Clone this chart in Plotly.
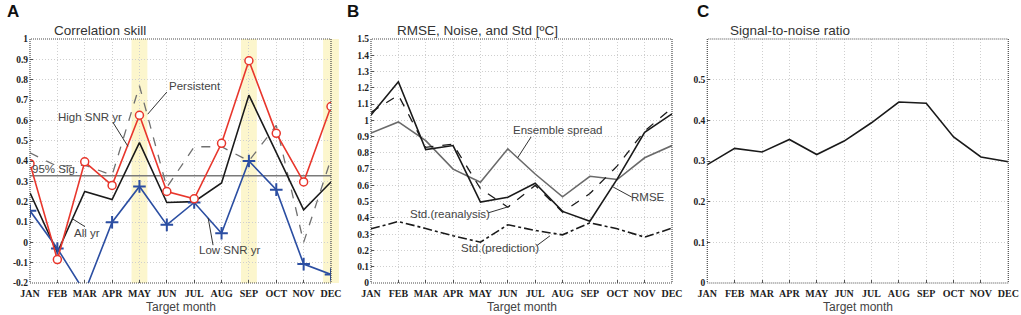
import plotly.graph_objects as go

months = ["JAN", "FEB", "MAR", "APR", "MAY", "JUN", "JUL", "AUG", "SEP", "OCT", "NOV", "DEC"]

# ---- Panel A: correlation skill ----
high_snr = [0.387, -0.085, 0.396, 0.28, 0.625, 0.25, 0.214, 0.487, 0.893, 0.536, 0.297, 0.668]
all_yr = [0.243, -0.05, 0.25, 0.21, 0.49, 0.196, 0.20, 0.292, 0.724, 0.44, 0.16, 0.297]
low_snr = [0.155, -0.03, -0.245, 0.099, 0.275, 0.086, 0.196, 0.045, 0.40, 0.259, -0.107, -0.158]
persistent = [0.44, 0.374, 0.38, 0.33, 0.77, 0.27, 0.47, 0.47, 0.40, 0.575, 0.0, 0.41]
sig95 = 0.328
highlight_months = ["MAY", "SEP", "DEC"]
a_ticks = [-0.2, -0.1, 0, 0.1, 0.2, 0.3, 0.4, 0.5, 0.6, 0.7, 0.8, 0.9, 1.0]

# ---- Panel B: RMSE, noise, std ----
rmse = [1.033, 1.237, 0.82, 0.845, 0.497, 0.527, 0.613, 0.44, 0.38, 0.64, 0.926, 1.04]
std_rean = [1.049, 1.155, 0.834, 0.853, 0.58, 0.466, 0.60, 0.436, 0.55, 0.72, 0.935, 1.075]
ens_spread = [0.922, 0.99, 0.875, 0.70, 0.62, 0.825, 0.67, 0.53, 0.656, 0.636, 0.77, 0.845]
std_pred = [0.333, 0.378, 0.335, 0.29, 0.251, 0.358, 0.323, 0.296, 0.37, 0.333, 0.282, 0.337]
b_ticks = [0, 0.1, 0.2, 0.3, 0.4, 0.5, 0.6, 0.7, 0.8, 0.9, 1.0, 1.1, 1.2, 1.3, 1.4, 1.5]

# ---- Panel C: signal-to-noise ratio ----
snr = [0.291, 0.331, 0.322, 0.353, 0.316, 0.349, 0.394, 0.445, 0.442, 0.359, 0.31, 0.298]
c_ticks = [0, 0.1, 0.2, 0.3, 0.4, 0.5]

xs = list(range(len(months)))

TICKFONT = dict(family="Liberation Serif, serif", size=10, color="#222", weight="bold")
YTICKFONT = dict(family="Liberation Serif, serif", size=9.5, color="#222", weight="bold")
TEXTFONT = dict(family="Liberation Sans, Arial, sans-serif", size=11.5, color="#444")
TITLEFONT = dict(family="Liberation Sans, Arial, sans-serif", size=13.5, color="#333")
GRIDDASH = "1px,2px"

fig = go.Figure()

# Panel A traces
fig.add_trace(go.Scatter(x=xs, y=persistent, mode="lines", xaxis="x", yaxis="y",
                         line=dict(color="#707070", width=1.3, dash="dash")))
fig.add_trace(go.Scatter(x=[xs[0], xs[-1]], y=[sig95, sig95], mode="lines", xaxis="x", yaxis="y",
                         line=dict(color="#7a7a7a", width=1.5)))
fig.add_trace(go.Scatter(x=xs, y=all_yr, mode="lines", xaxis="x", yaxis="y",
                         line=dict(color="#1a1a1a", width=1.6)))
fig.add_trace(go.Scatter(x=xs, y=low_snr, mode="lines+markers", xaxis="x", yaxis="y",
                         line=dict(color="#2b4ea2", width=1.6),
                         marker=dict(symbol="cross-thin", size=9, color="#2b4ea2",
                                     line=dict(color="#2b4ea2", width=2))))
fig.add_trace(go.Scatter(x=xs, y=high_snr, mode="lines+markers", xaxis="x", yaxis="y",
                         line=dict(color="#e8362c", width=1.6),
                         marker=dict(symbol="circle", size=8, color="white",
                                     line=dict(color="#e8362c", width=1.5))))

# Panel B traces
fig.add_trace(go.Scatter(x=xs, y=ens_spread, mode="lines", xaxis="x2", yaxis="y2",
                         line=dict(color="#6a6a6a", width=1.6)))
fig.add_trace(go.Scatter(x=xs, y=std_rean, mode="lines", xaxis="x2", yaxis="y2",
                         line=dict(color="#1a1a1a", width=1.3, dash="dash")))
fig.add_trace(go.Scatter(x=xs, y=rmse, mode="lines", xaxis="x2", yaxis="y2",
                         line=dict(color="#1a1a1a", width=1.6)))
fig.add_trace(go.Scatter(x=xs, y=std_pred, mode="lines", xaxis="x2", yaxis="y2",
                         line=dict(color="#1a1a1a", width=1.6, dash="dashdot")))

# Panel C trace
fig.add_trace(go.Scatter(x=xs, y=snr, mode="lines", xaxis="x3", yaxis="y3",
                         line=dict(color="#1a1a1a", width=1.6)))

def fmt(v):
    return f"{v:g}"

def xaxis(domain, anchor):
    return dict(domain=domain, anchor=anchor, range=[0, len(months) - 1],
                tickmode="array", tickvals=xs, ticktext=months, tickfont=TICKFONT,
                showgrid=True, gridcolor="#cfcfcf", griddash=GRIDDASH, gridwidth=1,
                zeroline=False, showline=False, ticks="inside", ticklen=3,
                tickcolor="#555", ticklabelstandoff=3, automargin=False, fixedrange=True)

def yaxis(rng, ticks, anchor):
    return dict(domain=[0, 1], anchor=anchor, range=rng,
                tickmode="array", tickvals=ticks, ticktext=[fmt(t) for t in ticks],
                tickfont=YTICKFONT, showgrid=True, gridcolor="#cfcfcf", griddash=GRIDDASH,
                gridwidth=1, zeroline=False, showline=False, ticks="inside", ticklen=3,
                tickcolor="#555", ticklabelstandoff=1, automargin=False, fixedrange=True)

W = 1021
fig.update_layout(
    width=W, height=315,
    margin=dict(l=0, r=0, t=39, b=32),
    paper_bgcolor="white", plot_bgcolor="white",
    showlegend=False,
    font=dict(family="Liberation Sans, Arial, sans-serif", color="#333"),
    xaxis=xaxis([30 / W, 331 / W], "y"),
    yaxis=yaxis([-0.2, 1.0], a_ticks, "x"),
    xaxis2=xaxis([371 / W, 672 / W], "y2"),
    yaxis2=yaxis([0, 1.5], b_ticks, "x2"),
    xaxis3=xaxis([707.3 / W, 1008.3 / W], "y3"),
    yaxis3=yaxis([0, 0.6], c_ticks, "x3"),
)

shapes = []
# highlighted months in panel A (yellow bands)
n = len(months) - 1
for m in highlight_months:
    i = months.index(m)
    shapes.append(dict(type="rect", xref="x domain", yref="y domain",
                       x0=(i - 0.29) / n, x1=(i + 0.29) / n, y0=0, y1=1,
                       fillcolor="rgba(251,244,196,0.85)", line=dict(width=0), layer="below"))
# dotted frames
for xa, ya in [("x", "y"), ("x2", "y2"), ("x3", "y3")]:
    shapes.append(dict(type="rect", xref=f"{xa} domain", yref=f"{ya} domain",
                       x0=0, x1=1, y0=0, y1=1,
                       line=dict(color="#4a4a4a", width=1.2, dash="1px,1px"),
                       layer="above"))

# label specs: (axis x, axis y, text, text_pos, leader_from, leader_to)
labels = [
    ("x", "y", "Persistent", (6.03, 0.769), (5.0, 0.739), (4.3, 0.63)),
    ("x", "y", "High SNR yr", (2.19, 0.615), (3.03, 0.59), (3.58, 0.472)),
    ("x", "y", "95% Sig.", (0.91, 0.36), None, None),
    ("x", "y", "All yr", (2.10, 0.044), (1.56, 0.115), (2.01, 0.077)),
    ("x", "y", "Low SNR yr", (7.31, -0.038), (6.69, -0.014), (6.51, 0.12)),
    ("x2", "y2", "Ensemble spread", (6.85, 0.942), (5.85, 0.898), (5.36, 0.77)),
    ("x2", "y2", "RMSE", (10.12, 0.53), (9.53, 0.528), (8.85, 0.59)),
    ("x2", "y2", "Std.(reanalysis)", (2.87, 0.425), (4.28, 0.431), (5.08, 0.472)),
    ("x2", "y2", "Std.(prediction)", (4.70, 0.217), (6.07, 0.231), (6.54, 0.29)),
]
annotations = []
for xa, ya, text, pos, p0, p1 in labels:
    annotations.append(dict(xref=xa, yref=ya, x=pos[0], y=pos[1], text=text, showarrow=False,
                            xanchor="center", yanchor="middle", font=TEXTFONT))
    if p0 is not None:
        shapes.append(dict(type="line", xref=xa, yref=ya, x0=p0[0], y0=p0[1], x1=p1[0], y1=p1[1],
                           line=dict(color="#333", width=1), layer="above"))

# subplot titles, panel letters, axis titles
titles = [("x", "y", "Correlation skill", 0.073, "A", 5),
          ("x2", "y2", "RMSE, Noise, and Std [ºC]", 0.08, "B", 345),
          ("x3", "y3", "Signal-to-noise ratio", 0.069, "C", 695)]
for xa, ya, t, tx, letter, lx in titles:
    annotations.append(dict(xref=f"{xa} domain", yref=f"{ya} domain", x=tx, y=1.035, text=t,
                            showarrow=False, xanchor="left", yanchor="middle", font=TITLEFONT))
    annotations.append(dict(xref=f"{xa} domain", yref=f"{ya} domain", x=0.5, y=-0.097,
                            text="Target month", showarrow=False, xanchor="center",
                            yanchor="middle", font=dict(family="Liberation Sans, Arial, sans-serif",
                                                        size=12, color="#444")))
    annotations.append(dict(xref="paper", yref="paper", x=lx / W, y=(283 - 11) / 244,
                            text=f"<b>{letter}</b>", showarrow=False, xanchor="left",
                            yanchor="middle", font=dict(family="Liberation Sans, Arial, sans-serif",
                                                        size=17, color="#111")))

fig.update_layout(shapes=shapes, annotations=annotations)
fig.write_html("out.html", config={"displayModeBar": False},
               post_script="document.body.style.margin='0px';document.body.style.overflow='hidden';")
